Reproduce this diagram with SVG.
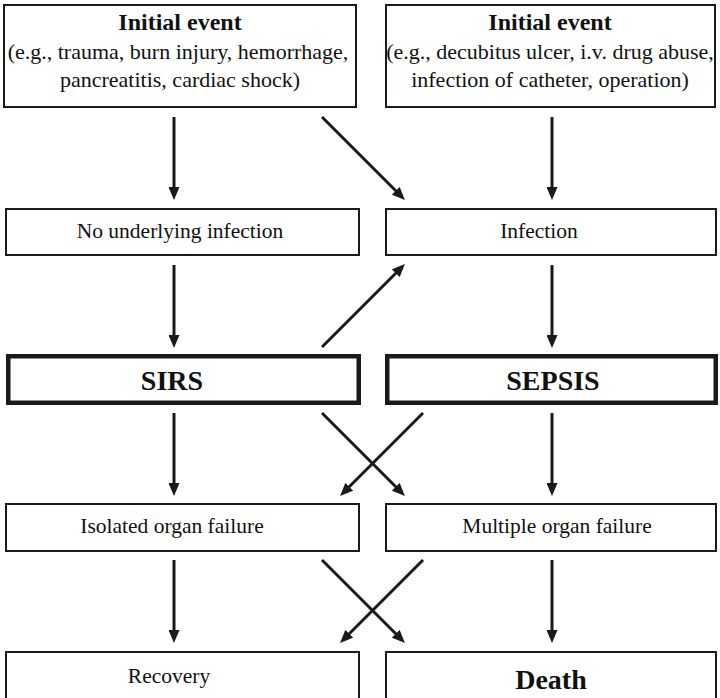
<svg xmlns="http://www.w3.org/2000/svg" width="720" height="698" viewBox="0 0 720 698" font-family="'Liberation Serif', 'Times New Roman', Times, serif">
<style>
.box{fill:#fff;stroke:#1a1a1a;stroke-width:2}
.thick{fill:#fff;stroke:#1a1a1a;stroke-width:4.5}
text{font-family:'Liberation Serif','Times New Roman',Times,serif;fill:#111;text-anchor:middle}
.reg{font-size:21.5px}
.ex{font-size:22px}
.title{font-size:24px;font-weight:bold}
.big{font-size:28px;font-weight:bold}
.arr{stroke:#1a1a1a;stroke-width:3;fill:none;marker-end:url(#ah)}
</style>
<defs>
<marker id="ah" markerUnits="userSpaceOnUse" markerWidth="13" markerHeight="11" viewBox="0 0 13 11" refX="6" refY="5.5" orient="auto">
<path d="M0,0 L13,5.5 L0,11 z" fill="#1a1a1a"/>
</marker>
</defs>
<g id="initial-left">
<rect class="box" x="4" y="5" width="352" height="102"/>
<text class="title" x="180" y="30">Initial event</text>
<text class="ex" x="178" y="59">(e.g., trauma, burn injury, hemorrhage,</text>
<text class="ex" x="180" y="87">pancreatitis, cardiac shock)</text>
</g>
<g id="initial-right">
<rect class="box" x="386" y="5" width="329" height="102"/>
<text class="title" x="550" y="30">Initial event</text>
<text class="ex" x="550" y="59">(e.g., decubitus ulcer, i.v. drug abuse,</text>
<text class="ex" x="550" y="87">infection of catheter, operation)</text>
</g>
<g id="no-infection">
<rect class="box" x="6" y="209" width="353" height="46"/>
<text class="reg" x="180" y="238">No underlying infection</text>
</g>
<g id="infection">
<rect class="box" x="386" y="209" width="330" height="46"/>
<text class="reg" x="539" y="238">Infection</text>
</g>
<g id="sirs">
<rect class="thick" x="8.25" y="356.25" width="350.5" height="46.5"/>
<text class="big" x="172" y="390">SIRS</text>
</g>
<g id="sepsis">
<rect class="thick" x="387.25" y="356.25" width="328.5" height="46.5"/>
<text class="big" x="553" y="390">SEPSIS</text>
</g>
<g id="isolated">
<rect class="box" x="6" y="504" width="353" height="47"/>
<text class="reg" x="172" y="533">Isolated organ failure</text>
</g>
<g id="multiple">
<rect class="box" x="386" y="504" width="330" height="47"/>
<text class="reg" x="557" y="533">Multiple organ failure</text>
</g>
<g id="recovery">
<rect class="box" x="6" y="652" width="353" height="60"/>
<text class="reg" x="169" y="683">Recovery</text>
</g>
<g id="death">
<rect class="box" x="386" y="652" width="330" height="60"/>
<text class="big" x="551" y="689">Death</text>
</g>
<g id="connectors">
<line class="arr" x1="174" y1="117" x2="174" y2="193"/>
<line class="arr" x1="322" y1="117" x2="400" y2="195"/>
<line class="arr" x1="552" y1="117" x2="552" y2="193"/>
<line class="arr" x1="174" y1="265" x2="174" y2="341"/>
<line class="arr" x1="322" y1="347" x2="400" y2="269"/>
<line class="arr" x1="552" y1="265" x2="552" y2="341"/>
<line class="arr" x1="174" y1="413" x2="174" y2="489"/>
<line class="arr" x1="322" y1="413" x2="400" y2="491"/>
<line class="arr" x1="423" y1="413" x2="345" y2="491"/>
<line class="arr" x1="552" y1="413" x2="552" y2="489"/>
<line class="arr" x1="174" y1="560" x2="174" y2="636"/>
<line class="arr" x1="322" y1="560" x2="400" y2="638"/>
<line class="arr" x1="423" y1="560" x2="345" y2="638"/>
<line class="arr" x1="552" y1="560" x2="552" y2="636"/>
</g>
</svg>
